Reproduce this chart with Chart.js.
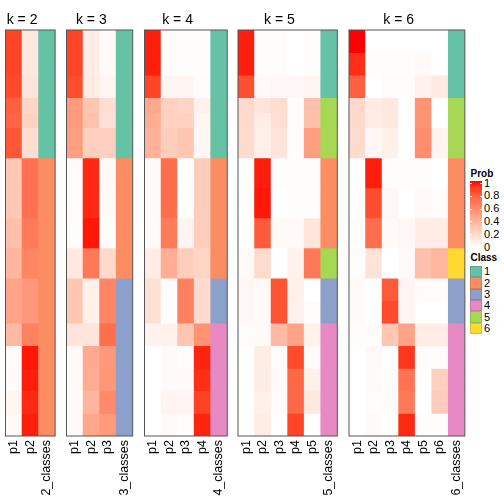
<!DOCTYPE html>
<html>
<head>
<meta charset="utf-8">
<script src="https://cdn.jsdelivr.net/npm/chart.js@4"></script>
<style>
  body { margin: 0; background: white; }
  #wrap { position: relative; width: 504px; height: 504px; overflow: hidden; font-family: "Liberation Sans", Arial, sans-serif; }
  .txt { position: absolute; line-height: 1; white-space: nowrap; color: #000; }
</style>
</head>
<body>
<div id="wrap"></div>
<script>
// row blocks (samples), top to bottom, in relative height units
const blockSizes = [3, 3, 3, 2, 2, 4, 4, 4, 4, 4, 3, 3, 3, 3, 3, 3, 3];

const probK2 = [
  [0.88, 0.12], [0.88, 0.12], [0.86, 0.14], [0.78, 0.22], [0.76, 0.24], [0.82, 0.18],
  [0.29, 0.71], [0.29, 0.71], [0.33, 0.67], [0.38, 0.62], [0.47, 0.53], [0.47, 0.53],
  [0.36, 0.64], [0.02, 0.98], [0.02, 0.97], [0.05, 0.95], [0.03, 0.97]
];
const probK3 = [
  [0.88, 0.09, 0.03], [0.88, 0.09, 0.03], [0.85, 0.1, 0.05], [0.52, 0.3, 0.18], [0.52, 0.32, 0.16],
  [0.5, 0.25, 0.25], [0.02, 0.95, 0.03], [0.02, 0.95, 0.03], [0.01, 0.98, 0.01], [0.12, 0.68, 0.2],
  [0.3, 0.08, 0.62], [0.3, 0.08, 0.62], [0.14, 0.14, 0.72], [0.03, 0.44, 0.53], [0.03, 0.43, 0.54],
  [0.02, 0.38, 0.6], [0.02, 0.46, 0.52]
];
const probK4 = [
  [0.97, 0.01, 0.01, 0.01], [0.97, 0.01, 0.01, 0.01], [0.88, 0.05, 0.05, 0.02], [0.45, 0.24, 0.22, 0.07],
  [0.43, 0.24, 0.24, 0.05], [0.4, 0.26, 0.3, 0.04], [0.02, 0.72, 0.0, 0.26], [0.02, 0.72, 0.0, 0.26],
  [0.02, 0.66, 0.06, 0.26], [0.1, 0.42, 0.26, 0.22], [0.16, 0.01, 0.64, 0.19], [0.16, 0.01, 0.64, 0.19],
  [0.07, 0.07, 0.3, 0.56], [0.0, 0.03, 0.01, 0.96], [0.0, 0.03, 0.03, 0.94], [0.0, 0.06, 0.05, 0.89],
  [0.0, 0.03, 0.01, 0.96]
];
const probK5 = [
  [0.97, 0.01, 0.01, 0.0, 0.01], [0.97, 0.01, 0.01, 0.0, 0.01], [0.84, 0.03, 0.04, 0.04, 0.05],
  [0.2, 0.14, 0.18, 0.01, 0.33], [0.2, 0.1, 0.17, 0.01, 0.33], [0.19, 0.08, 0.14, 0.01, 0.5],
  [0.0, 0.97, 0.01, 0.01, 0.01], [0.0, 0.98, 0.0, 0.01, 0.01], [0.0, 0.8, 0.03, 0.03, 0.13],
  [0.03, 0.19, 0.0, 0.07, 0.68], [0.04, 0.03, 0.83, 0.08, 0.0], [0.04, 0.03, 0.83, 0.07, 0.02],
  [0.02, 0.03, 0.36, 0.48, 0.07], [0.0, 0.1, 0.02, 0.86, 0.02], [0.0, 0.1, 0.03, 0.75, 0.08],
  [0.0, 0.08, 0.02, 0.75, 0.12], [0.0, 0.1, 0.0, 0.88, 0.0]
];
const probK6 = [
  [1.0, 0.0, 0.0, 0.0, 0.0, 0.0], [0.94, 0.01, 0.01, 0.01, 0.03, 0.0], [0.78, 0.0, 0.02, 0.02, 0.07, 0.11],
  [0.2, 0.1, 0.12, 0.0, 0.55, 0.0], [0.2, 0.1, 0.12, 0.0, 0.55, 0.0], [0.19, 0.04, 0.08, 0.0, 0.58, 0.06],
  [0.0, 0.97, 0.01, 0.01, 0.01, 0.0], [0.0, 0.85, 0.04, 0.0, 0.03, 0.02], [0.01, 0.72, 0.03, 0.04, 0.1, 0.1],
  [0.01, 0.15, 0.0, 0.03, 0.33, 0.38], [0.03, 0.0, 0.8, 0.05, 0.02, 0.02], [0.03, 0.0, 0.86, 0.05, 0.0, 0.0],
  [0.01, 0.01, 0.3, 0.48, 0.1, 0.1], [0.0, 0.03, 0.0, 0.92, 0.02, 0.02], [0.0, 0.03, 0.01, 0.7, 0.01, 0.25],
  [0.0, 0.01, 0.02, 0.68, 0.0, 0.27], [0.0, 0.03, 0.0, 0.95, 0.01, 0.01]
];

const classK2 = [1, 1, 1, 1, 1, 1, 2, 2, 2, 2, 2, 2, 2, 2, 2, 2, 2];
const classK3 = [1, 1, 1, 1, 1, 1, 2, 2, 2, 2, 3, 3, 3, 3, 3, 3, 3];
const classK4 = [1, 1, 1, 1, 1, 1, 2, 2, 2, 2, 3, 3, 4, 4, 4, 4, 4];
const classK5 = [1, 1, 1, 5, 5, 5, 2, 2, 2, 5, 3, 3, 4, 4, 4, 4, 4];
const classK6 = [1, 1, 1, 5, 5, 5, 2, 2, 2, 6, 3, 3, 4, 4, 4, 4, 4];

const classNames = ["1", "2", "3", "4", "5", "6"];
const classColors = ["#66C2A5", "#FC8D62", "#8DA0CB", "#E78AC3", "#A6D854", "#FFD92F"];
const probTicks = [0, 0.2, 0.4, 0.6, 0.8, 1];

const panelLefts = [5.5, 66.5, 144.5, 238, 349];
const colW = 16.55;
const wrap = document.getElementById("wrap");

// white -> red, interpolated in LAB like colorRamp2
function toLab(hex) {
  const c = [1, 3, 5].map(i => parseInt(hex.substr(i, 2), 16) / 255)
    .map(v => v <= 0.04045 ? v / 12.92 : Math.pow((v + 0.055) / 1.055, 2.4));
  const x = (0.4124 * c[0] + 0.3576 * c[1] + 0.1805 * c[2]) / 0.95047;
  const y = 0.2126 * c[0] + 0.7152 * c[1] + 0.0722 * c[2];
  const z = (0.0193 * c[0] + 0.1192 * c[1] + 0.9505 * c[2]) / 1.08883;
  const f = t => t > 0.008856 ? Math.cbrt(t) : 7.787 * t + 16 / 116;
  return [116 * f(y) - 16, 500 * (f(x) - f(y)), 200 * (f(y) - f(z))];
}

function fromLab(L, a, b) {
  const fy = (L + 16) / 116, fx = fy + a / 500, fz = fy - b / 200;
  const inv = t => t > 0.206893 ? t * t * t : (t - 16 / 116) / 7.787;
  const x = inv(fx) * 0.95047, y = inv(fy), z = inv(fz) * 1.08883;
  const lin = [
    3.2406 * x - 1.5372 * y - 0.4986 * z,
    -0.9689 * x + 1.8758 * y + 0.0415 * z,
    0.0557 * x - 0.2040 * y + 1.0570 * z
  ];
  const rgb = lin.map(v => {
    v = Math.min(1, Math.max(0, v));
    v = v <= 0.0031308 ? 12.92 * v : 1.055 * Math.pow(v, 1 / 2.4) - 0.055;
    return Math.round(v * 255);
  });
  return `rgb(${rgb[0]},${rgb[1]},${rgb[2]})`;
}

const labWhite = toLab("#FFFFFF");
const labRed = toLab("#FF0000");

function probColor(p) {
  const l = labWhite.map((v, i) => v + (labRed[i] - v) * p);
  return fromLab(l[0], l[1], l[2]);
}

const framePlugin = {
  id: "frame",
  afterDatasetsDraw(chart) {
    const a = chart.chartArea;
    const ctx = chart.ctx;
    ctx.save();
    ctx.strokeStyle = "#555555";
    ctx.lineWidth = 1;
    ctx.strokeRect(a.left, a.top, a.right - a.left, a.bottom - a.top);
    ctx.restore();
  }
};

function addText(str, x, y, size, bold, center) {
  const d = document.createElement("div");
  d.className = "txt";
  d.textContent = str;
  d.style.fontSize = size + "px";
  if (bold) d.style.fontWeight = "bold";
  d.style.left = x + "px";
  d.style.top = y + "px";
  if (center) d.style.transform = "translateX(-50%)";
  wrap.appendChild(d);
}

function renderPanel(idx, k, probs, classes) {
  const left = panelLefts[idx];
  const pw = (k + 1) * colW;
  const cLeft = Math.floor(left) - 4;
  const cRight = Math.ceil(left + pw) + 4;

  const canvas = document.createElement("canvas");
  canvas.width = cRight - cLeft;
  canvas.height = 504;
  canvas.style.cssText = `position:absolute;left:${cLeft}px;top:0px;`;
  wrap.appendChild(canvas);

  const labels = [];
  for (let j = 1; j <= k; j++) labels.push("p" + j);
  labels.push(k + "_classes");

  const datasets = blockSizes.map((size, b) => ({
    data: labels.map(() => size),
    backgroundColor: probs[b].map(probColor).concat(classColors[classes[b] - 1]),
    borderWidth: 0
  }));

  new Chart(canvas, {
    type: "bar",
    data: { labels, datasets },
    options: {
      responsive: false,
      animation: false,
      devicePixelRatio: 1,
      layout: { padding: { left: left - cLeft, right: cRight - left - pw, top: 30, bottom: 0 } },
      datasets: { bar: { categoryPercentage: 1, barPercentage: 1 } },
      plugins: { legend: { display: false }, tooltip: { enabled: false } },
      scales: {
        x: {
          stacked: true,
          grid: { display: false, drawTicks: false },
          border: { display: false },
          ticks: {
            autoSkip: false, minRotation: 90, maxRotation: 90, padding: 4, color: "#000",
            font: { family: "'Liberation Sans', Arial, sans-serif", size: 12.5 }
          },
          afterFit: s => { s.height = 68; s.paddingLeft = 0; s.paddingRight = 0; }
        },
        y: {
          stacked: true, reverse: true, display: false,
          min: 0, max: blockSizes.reduce((a, b) => a + b, 0)
        }
      }
    },
    plugins: [framePlugin]
  });

  // title centred over the probability columns
  addText("k = " + k, left + k * colW / 2, 11.5, 14, false, true);
}

renderPanel(0, 2, probK2, classK2);
renderPanel(1, 3, probK3, classK3);
renderPanel(2, 4, probK4, classK4);
renderPanel(3, 5, probK5, classK5);
renderPanel(4, 6, probK6, classK6);

// legends
addText("Prob", 470.5, 168.8, 10, true, false);
const bar = document.createElement("div");
const stops = [];
for (let i = 0; i <= 10; i++) stops.push(probColor(i / 10) + " " + (i * 10) + "%");
bar.style.cssText = `position:absolute;left:470px;top:181px;width:12px;height:66px;background:linear-gradient(to top, ${stops.join(",")});`;
wrap.appendChild(bar);
probTicks.forEach(v => {
  const y = 247 - v * 64;
  [470, 480].forEach(x => {
    const t = document.createElement("div");
    t.style.cssText = `position:absolute;left:${x}px;top:${Math.round(y) - 0.5}px;width:2px;height:1px;background:white;`;
    wrap.appendChild(t);
  });
  addText(String(v), 484, y - 5.5, 11, false, false);
});

addText("Class", 470.5, 253.2, 10, true, false);
classNames.forEach((name, i) => {
  const top = 266 + i * 11.35;
  const sw = document.createElement("div");
  sw.style.cssText = `position:absolute;left:470px;top:${top}px;width:12px;height:11.35px;box-sizing:border-box;border:1px solid rgba(0,0,0,0.12);background:${classColors[i]};`;
  wrap.appendChild(sw);
  addText(name, 484, top + 11.35 / 2 - 5.5, 11, false, false);
});
</script>
</body>
</html>
